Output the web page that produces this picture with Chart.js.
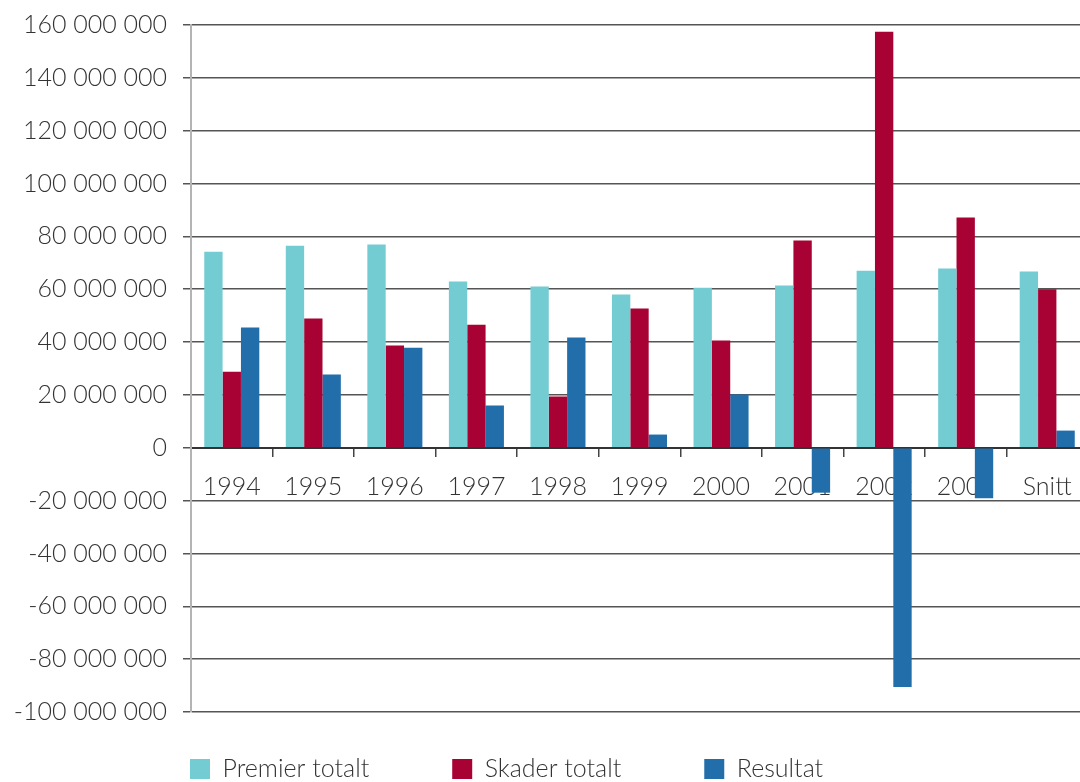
<!DOCTYPE html>
<html>
<head>
<meta charset="utf-8">
<script src="https://cdn.jsdelivr.net/npm/chart.js@4/dist/chart.umd.min.js"></script>
<style>
  html, body { margin: 0; padding: 0; background: #fff; overflow: hidden; }
  #chart { display: block; }
</style>
</head>
<body>
<canvas id="chart" width="1088" height="782"></canvas>
<script>
const categories = ['1994', '1995', '1996', '1997', '1998', '1999', '2000', '2001', '2002', '2003', 'Snitt'];

const premier = [74200000, 76500000, 76900000, 62900000, 61000000, 58000000, 60600000, 61400000, 67000000, 67800000, 66700000];
const skader = [28800000, 48900000, 38700000, 46600000, 19400000, 52700000, 40600000, 78400000, 157400000, 87100000, 60000000];
const resultat = [45500000, 27700000, 37900000, 16000000, 41700000, 5000000, 20200000, -17000000, -90500000, -19100000, 6500000];

const seriesNames = ['Premier totalt', 'Skader totalt', 'Resultat'];
const yMin = -100000000, yMax = 160000000, yStep = 20000000;

const textFont = { family: 'Lato, "Open Sans", sans-serif', size: 25, weight: '300' };
const textColor = '#333';

// thousands with spaces, plain hyphen for minus
function fmt(v) {
  const s = String(Math.abs(Math.round(v))).replace(/\B(?=(\d{3})+(?!\d))/g, ' ');
  return (v < 0 ? '-' : '') + s;
}

// move the built-in legend to where the original has it
const legendPlace = {
  id: 'legendPlace',
  beforeDraw(chart) {
    const lg = chart.legend;
    lg.left = 107;
    lg.right = chart.width;
    lg.top = 673.5;
    lg.bottom = chart.height + 20;
    lg.width = lg.right - lg.left;
    lg.height = lg.bottom - lg.top;
  }
};

new Chart(document.getElementById('chart'), {
  type: 'bar',
  data: {
    labels: categories,
    datasets: [
      { label: seriesNames[0], data: premier, backgroundColor: '#74CCD3' },
      { label: seriesNames[1], data: skader, backgroundColor: '#A80234' },
      { label: seriesNames[2], data: resultat, backgroundColor: '#216EAA' }
    ]
  },
  options: {
    responsive: false,
    animation: false,
    layout: { padding: { top: 0, bottom: 69, left: 0, right: 0 } },
    datasets: {
      bar: { barPercentage: 1, categoryPercentage: 0.675, borderWidth: 0 }
    },
    scales: {
      x: {
        position: { y: 0 },
        grid: { display: true, offset: true, drawOnChartArea: false, tickLength: 8, color: '#444', lineWidth: 1.5 },
        border: { display: true, color: '#333', width: 2 },
        ticks: { font: textFont, color: textColor, padding: 16, autoSkip: false, maxRotation: 0 }
      },
      y: {
        min: yMin,
        max: yMax,
        afterFit(scale) { scale.width = 191; },
        grid: { color: '#555', lineWidth: 1.5, tickLength: 8 },
        border: { display: true, color: '#b4b4b4', width: 2 },
        ticks: {
          stepSize: yStep,
          font: Object.assign({}, textFont, { lineHeight: 0.72 }),
          color: textColor,
          padding: 16,
          callback: v => fmt(v)
        }
      }
    },
    plugins: {
      legend: {
        position: 'bottom',
        align: 'start',
        maxHeight: 1,
        labels: { boxWidth: 20, boxHeight: 20, padding: 83, font: textFont, color: textColor }
      },
      tooltip: { enabled: false }
    }
  },
  plugins: [legendPlace]
});
</script>
</body>
</html>
